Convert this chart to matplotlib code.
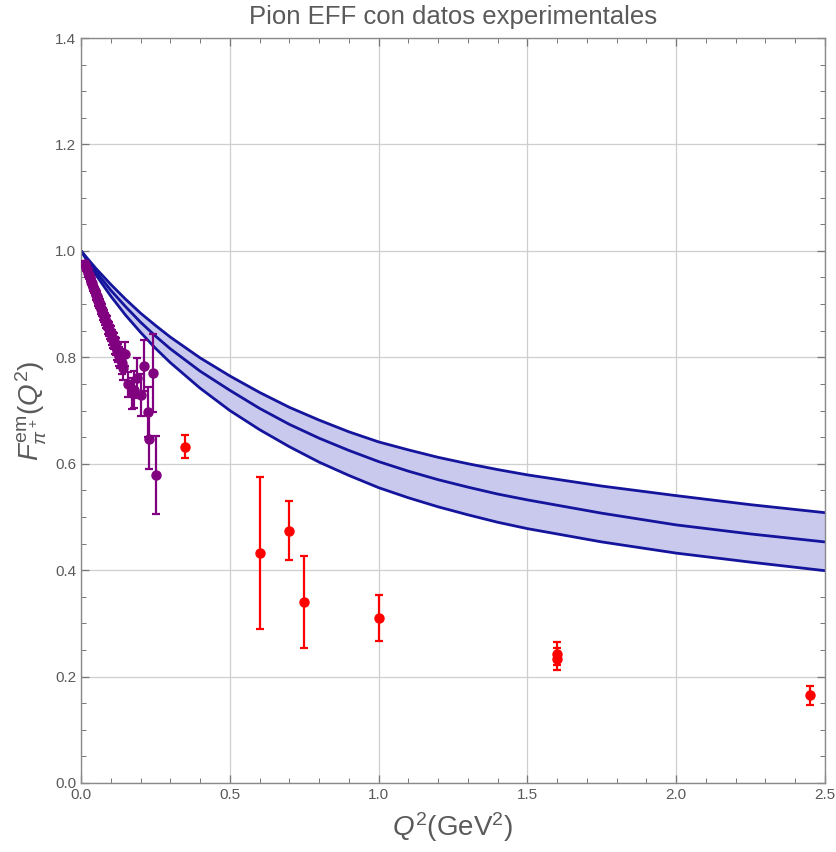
import numpy as np
import matplotlib
matplotlib.use("Agg")
import matplotlib.pyplot as plt
from matplotlib.ticker import MultipleLocator, FormatStrFormatter

# model band
q2_model = [0.0, 0.05, 0.1, 0.15, 0.2, 0.25, 0.3, 0.4, 0.5, 0.6, 0.7, 0.8,
            0.9, 1.0, 1.1, 1.2, 1.3, 1.4, 1.5, 1.75, 2.0, 2.25, 2.5]
f_upper = [1.0, 0.967, 0.937, 0.909, 0.883, 0.860, 0.838, 0.799, 0.765,
           0.734, 0.706, 0.682, 0.660, 0.641, 0.626, 0.612, 0.600, 0.589,
           0.579, 0.558, 0.540, 0.523, 0.508]
f_central = [1.0, 0.961, 0.926, 0.895, 0.866, 0.840, 0.816, 0.774, 0.738,
             0.704, 0.674, 0.648, 0.625, 0.604, 0.586, 0.570, 0.556, 0.543,
             0.532, 0.507, 0.485, 0.468, 0.453]
f_lower = [1.0, 0.955, 0.915, 0.879, 0.847, 0.817, 0.790, 0.742, 0.700,
           0.664, 0.632, 0.603, 0.578, 0.555, 0.536, 0.519, 0.504, 0.490,
           0.478, 0.453, 0.432, 0.415, 0.399]

# low Q^2 data (purple)
q2_low = [0.014, 0.017, 0.020, 0.024, 0.027, 0.030, 0.034, 0.037, 0.040,
          0.044, 0.047, 0.050, 0.054, 0.057, 0.060, 0.064, 0.067, 0.070,
          0.074, 0.077, 0.080, 0.084, 0.087, 0.090, 0.094, 0.097, 0.100,
          0.104, 0.107, 0.110, 0.114, 0.117, 0.120, 0.124, 0.127, 0.131,
          0.137, 0.142, 0.148, 0.159, 0.170, 0.178, 0.187, 0.200, 0.212,
          0.224, 0.230, 0.243, 0.252]
f_low = [0.975, 0.968, 0.966, 0.958, 0.955, 0.951, 0.942, 0.940, 0.933,
         0.928, 0.925, 0.917, 0.915, 0.906, 0.903, 0.900, 0.891, 0.889,
         0.881, 0.878, 0.872, 0.867, 0.865, 0.856, 0.853, 0.847, 0.845,
         0.838, 0.833, 0.830, 0.822, 0.820, 0.812, 0.808, 0.802, 0.797,
         0.789, 0.779, 0.806, 0.749, 0.732, 0.739, 0.761, 0.729, 0.784,
         0.698, 0.646, 0.771, 0.579]
err_low = [0.006, 0.006, 0.006, 0.007, 0.007, 0.007, 0.007, 0.008, 0.008,
           0.008, 0.008, 0.009, 0.009, 0.009, 0.010, 0.010, 0.010, 0.011,
           0.011, 0.011, 0.012, 0.012, 0.012, 0.013, 0.013, 0.013, 0.014,
           0.014, 0.015, 0.015, 0.016, 0.016, 0.017, 0.017, 0.018, 0.018,
           0.020, 0.021, 0.023, 0.024, 0.030, 0.035, 0.037, 0.040, 0.048,
           0.047, 0.055, 0.073, 0.073]

# higher Q^2 data (red)
q2_high = [0.35, 0.60, 0.70, 0.75, 1.00, 1.60, 1.60, 2.45]
f_high = [0.632, 0.432, 0.474, 0.340, 0.310, 0.243, 0.233, 0.165]
err_high = [0.022, 0.143, 0.055, 0.086, 0.043, 0.022, 0.020, 0.018]

plt.rcParams["font.family"] = ["Liberation Sans", "DejaVu Sans"]
plt.rcParams["mathtext.fontset"] = "custom"
plt.rcParams["mathtext.rm"] = "Liberation Sans"
plt.rcParams["mathtext.it"] = "Liberation Sans:italic"

grey = "#5a5a5a"

fig = plt.figure(figsize=(8.37, 8.52), dpi=100)
ax = fig.add_axes([81 / 837, 69 / 852, 744 / 837, 745 / 852])

ax.fill_between(q2_model, f_lower, f_upper, color="#c9c9ee", lw=0, zorder=1)
for f in (f_upper, f_central, f_lower):
    ax.plot(q2_model, f, color="#14149c", lw=2.0, zorder=2,
            solid_joinstyle="round")

ax.errorbar(q2_low, f_low, yerr=err_low, fmt="o", color="#800080", ms=6.5,
            elinewidth=1.6, capsize=3, capthick=1.6, zorder=3)
ax.errorbar(q2_high, f_high, yerr=err_high, fmt="o", color="#ff0000", ms=6.5,
            elinewidth=1.6, capsize=3, capthick=1.6, zorder=3)

ax.set_xlim(0, 2.5)
ax.set_ylim(0, 1.4)
ax.xaxis.set_major_locator(MultipleLocator(0.5))
ax.xaxis.set_minor_locator(MultipleLocator(0.1))
ax.yaxis.set_major_locator(MultipleLocator(0.2))
ax.yaxis.set_minor_locator(MultipleLocator(0.05))
ax.xaxis.set_major_formatter(FormatStrFormatter("%.1f"))
ax.yaxis.set_major_formatter(FormatStrFormatter("%.1f"))
ax.grid(True, which="major", color="#cfcfcf", lw=0.9)
ax.set_axisbelow(True)
ax.tick_params(which="both", direction="in", top=True, right=True,
               color="#777777", labelcolor=grey, labelsize=11)
ax.tick_params(which="major", length=6, width=0.9)
ax.tick_params(which="minor", length=3.5, width=0.7)
for s in ax.spines.values():
    s.set_color("#8a8a8a")
    s.set_linewidth(1.0)

ax.set_title("Pion EFF con datos experimentales", fontsize=18.5, color=grey, pad=10)
ax.set_xlabel(r"$Q^2$(GeV$^2$)", fontsize=20, color=grey, labelpad=6)
ax.set_ylabel(r"$F^{\rm em}_{\pi^+}(Q^2)$", fontsize=20, color=grey, labelpad=4)

fig.savefig("out.png", dpi=100)
